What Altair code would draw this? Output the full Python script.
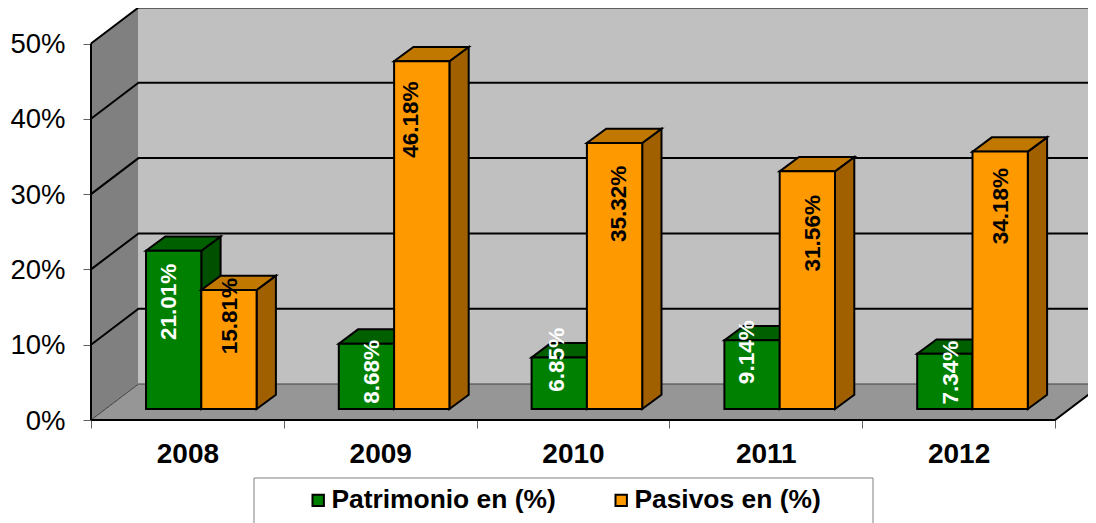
import altair as alt
import pandas as pd

# ---- values ----
years = ["2008", "2009", "2010", "2011", "2012"]
patrimonio = [21.01, 8.68, 6.85, 9.14, 7.34]
pasivos = [15.81, 46.18, 35.32, 31.56, 34.18]
y_ticks = [0, 10, 20, 30, 40, 50]

# ---- where Excel happened to leave each rotated label (axis units) ----
pat_label_y = [15.7, 6.4, 8.0, 9.0, 6.3]
pas_label_y = [13.8, 39.9, 28.7, 24.8, 28.4]
pat_label_dx = [-0.023, 0.03, -0.012, -0.026, 0.034]
pas_label_dx = [0.005, -0.057, 0.023, 0.03, 0.005]

# ---- 3-D box geometry, in axis units ----
PX_X, PX_Y = 192.8, 7.53
WALL_DX, WALL_DY = 47.5 / PX_X, 36 / PX_Y
BOX_DX, BOX_DY = 19.3 / PX_X, 14.3 / PX_Y
BAR_W, BAR_START, BAR_BASE = 55.3 / PX_X, 55 / PX_X, 11 / PX_Y
N = len(years)

W, H = 997, 412
x_scale = alt.Scale(domain=[0, W / PX_X], range=[0, W], nice=False, zero=False)
y_scale = alt.Scale(domain=[0, H / PX_Y], range=[H, 0], nice=False, zero=False)

FONT = "Liberation Sans"

ticks_x = [i / 2 for i in range(2 * N + 1)]
label_array = "[" + ",".join(f"'{y}'" for y in years) + "]"
x_axis = alt.Axis(
    title=None,
    values=ticks_x,
    domain=False,
    grid=False,
    tickSize=8,
    tickColor="#606060",
    tickOpacity={"condition": {"test": "datum.value % 1 != 0", "value": 0}, "value": 1},
    labelExpr=f"datum.value % 1 != 0 ? {label_array}[floor(datum.value)] : ''",
    labelFont=FONT,
    labelFontWeight="bold",
    labelFontSize=28,
    labelColor="black",
    labelPadding=12,
    labelOverlap=False,
    labelFlush=False,
)
y_axis = alt.Axis(
    title=None,
    values=y_ticks,
    domain=False,
    grid=False,
    tickSize=8,
    tickColor="#606060",
    labelExpr="datum.value + '%'",
    labelFont=FONT,
    labelFontSize=27.5,
    labelColor="black",
    labelPadding=18,
    labelOffset=1,
    labelOverlap=False,
)
X = alt.X("x:Q", scale=x_scale, axis=x_axis)
Y = alt.Y("y:Q", scale=y_scale, axis=y_axis, stack=None)


def area(df, fill, stroke=None, sw=2):
    kw = dict(fill=fill, opacity=1)
    if stroke:
        kw.update(stroke=stroke, strokeWidth=sw, strokeJoin="miter")
    return alt.Chart(df).mark_area(**kw).encode(x=X, y=Y, y2="y2:Q", detail="id:N")


def lines(rows, color="black", sw=2):
    df = pd.DataFrame(rows, columns=["id", "i", "x", "y"])
    return alt.Chart(df).mark_line(color=color, strokeWidth=sw).encode(
        x=X, y=Y, detail="id:N", order="i:Q"
    )


def faces(values, offset):
    side, top, front = [], [], []
    for k, v in enumerate(values):
        xl = k + BAR_START + offset * BAR_W
        xr = xl + BAR_W
        b, t = BAR_BASE, BAR_BASE + v
        side += [(k, 0, xr, b, t), (k, 1, xr + BOX_DX, b + BOX_DY, t + BOX_DY)]
        top += [
            (k, 0, xl, t, t),
            (k, 1, xl + BOX_DX, t, t + BOX_DY),
            (k, 2, xr, t, t + BOX_DY),
            (k, 3, xr + BOX_DX, t + BOX_DY, t + BOX_DY),
        ]
        front.append((k, xl, xr, b, t))
    cols = ["id", "i", "x", "y", "y2"]
    return (
        pd.DataFrame(side, columns=cols),
        pd.DataFrame(top, columns=cols),
        pd.DataFrame(front, columns=["id", "x", "x2", "y", "y2"]),
    )


# walls and floor
left_wall = area(
    pd.DataFrame(
        [("w", 0, 0, 0, 50), ("w", 1, WALL_DX, WALL_DY, 50 + WALL_DY)],
        columns=["id", "i", "x", "y", "y2"],
    ),
    "#808080",
)
back_wall = area(
    pd.DataFrame(
        [
            ("b", 0, WALL_DX, WALL_DY, 50 + WALL_DY),
            ("b", 1, N + WALL_DX, WALL_DY, 50 + WALL_DY),
        ],
        columns=["id", "i", "x", "y", "y2"],
    ),
    "#C0C0C0",
)
floor = area(
    pd.DataFrame(
        [
            ("f", 0, 0, 0, 0),
            ("f", 1, WALL_DX, 0, WALL_DY),
            ("f", 2, N, 0, WALL_DY),
            ("f", 3, N + WALL_DX, WALL_DY, WALL_DY),
        ],
        columns=["id", "i", "x", "y", "y2"],
    ),
    "#969696",
)

grid_rows = []
for v in y_ticks[1:]:
    grid_rows += [
        (v, 0, 0, v),
        (v, 1, WALL_DX, v + WALL_DY),
        (v, 2, N + WALL_DX, v + WALL_DY),
    ]
grid_rows += [("front", 0, 0, 0), ("front", 1, N, 0), ("front", 2, N + WALL_DX, WALL_DY)]
grid_rows += [("axis", 0, 0, 0), ("axis", 1, 0, 50)]
grid = lines(grid_rows)
thin = lines(
    [("d", 0, 0, 0), ("d", 1, WALL_DX, WALL_DY), ("d", 2, N + WALL_DX, WALL_DY)],
    color="#404040",
    sw=1,
)

# frame of the legend
legend_box = alt.Chart(
    pd.DataFrame(
        [{"x": (254 - 91) / PX_X, "x2": (873 - 91) / PX_X, "y": -58 / PX_Y, "y2": -120 / PX_Y}]
    )
).mark_rect(fill="white", stroke="#808080", strokeWidth=1).encode(x=X, x2="x2:Q", y=Y, y2="y2:Q")

names = ["Patrimonio en (%)", "Pasivos en (%)"]
fills = ["#008000", "#FF9900"]
color_scale = alt.Scale(domain=names, range=fills)
legend = alt.Legend(
    title=None,
    orient="none",
    direction="horizontal",
    columns=2,
    legendX=214,
    legendY=479,
    padding=0,
    columnPadding=52,
    symbolType="square",
    symbolSize=130,
    symbolStrokeColor="black",
    symbolStrokeWidth=2,
    symbolOpacity=1,
    labelFont=FONT,
    labelFontWeight="bold",
    labelFontSize=26.4,
    labelColor="black",
    labelOffset=0,
    labelLimit=400,
)


def series(values, offset, name, side_c, top_c):
    side, top, front = faces(values, offset)
    front["serie"] = name
    f = alt.Chart(front).mark_rect(stroke="black", strokeWidth=2, strokeJoin="miter").encode(
        x=X,
        x2="x2:Q",
        y=Y,
        y2="y2:Q",
        color=alt.Color("serie:N", scale=color_scale, legend=legend),
    )
    return [area(side, side_c, "black"), area(top, top_c, "black"), f]


def labels(values, ys, dxs, offset, color):
    df = pd.DataFrame(
        {
            "x": [k + BAR_START + (offset + 0.5) * BAR_W + d for k, d in enumerate(dxs)],
            "y": ys,
            "t": [f"{v:.2f}%" for v in values],
        }
    )
    return alt.Chart(df).mark_text(
        angle=270, font=FONT, fontWeight="bold", fontSize=22.5, color=color, baseline="middle", align="center"
    ).encode(x=X, y=Y, text="t:N")


layers = [left_wall, back_wall, floor, thin, grid, legend_box]
layers += series(patrimonio, 0, names[0], "#005000", "#006000")
layers += series(pasivos, 1, names[1], "#A06000", "#C07800")
layers += [
    labels(patrimonio, pat_label_y, pat_label_dx, 0, "white"),
    labels(pasivos, pas_label_y, pas_label_dx, 1, "black"),
]

chart = (
    alt.layer(*layers)
    .properties(
        width=W,
        height=H,
        autosize=alt.AutoSizeParams(type="none"),
        padding={"left": 83, "top": 0, "right": 0, "bottom": 103},
        background="white",
    )
    .configure_view(stroke=None)
)

chart.save("out.html", embed_options={"renderer": "svg", "actions": False})
